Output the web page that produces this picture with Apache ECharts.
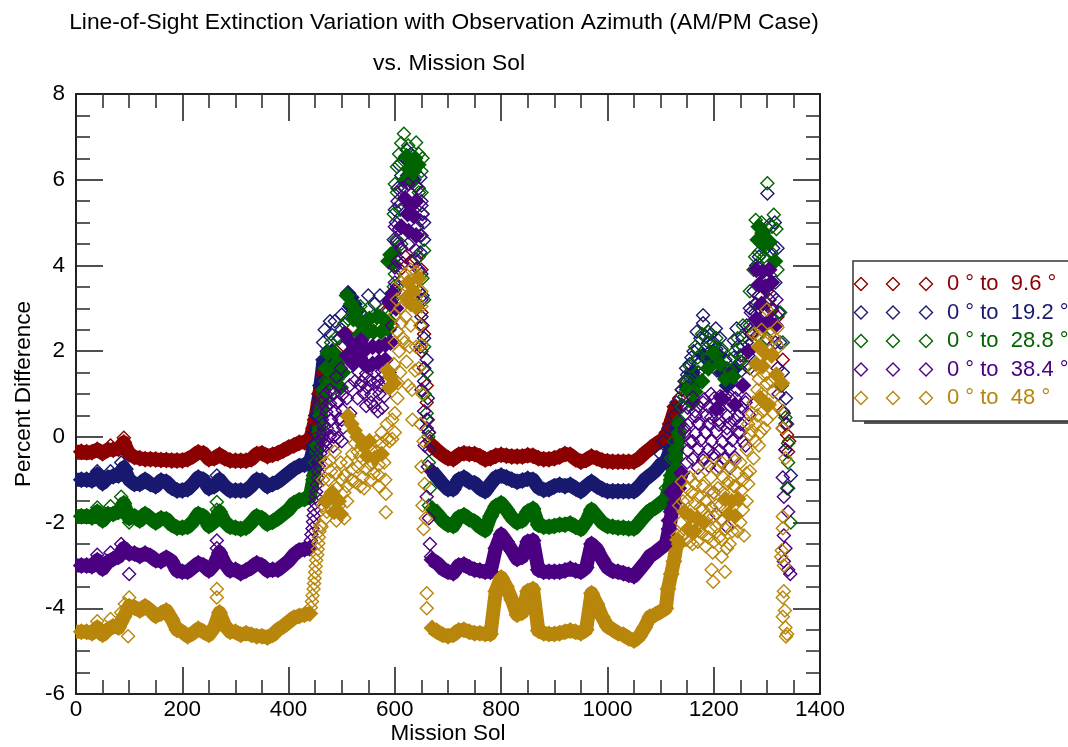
<!DOCTYPE html>
<html>
<head>
<meta charset="utf-8">
<style>
    html, body { margin: 0; padding: 0; background: #fff; overflow: hidden; }
    #main { width: 1068px; height: 747px; }
</style>
<script src="https://cdn.jsdelivr.net/npm/echarts@6/dist/echarts.min.js"></script>
</head>
<body>
<div id="main"></div>
<script type="text/javascript">
    var titleLines = ['Line-of-Sight Extinction Variation with Observation Azimuth (AM/PM Case)', 'vs. Mission Sol'];
    var legendLabels = ['0 ° to  9.6 °', '0 ° to  19.2 °', '0 ° to  28.8 °', '0 ° to  38.4 °', '0 ° to  48 °'];
    var colors = ['#8b0000', '#191970', '#006400', '#4b0082', '#b8860b'];

    // quiet stretches, one reading every 10 sols
    var earlySols = [0,10,20,30,40,50,60,70,80,90,100,110,120,130,140,150,160,170,180,190,200,210,220,230,240,250,260,270,280,290,300,310,320,330,340,350,360,370,380,390,400,410,420,430,440];
    var lateSols = [670,680,690,700,710,720,730,740,750,760,770,780,790,800,810,820,830,840,850,860,870,880,890,900,910,920,930,940,950,960,970,980,990,1000,1010,1020,1030,1040,1050,1060,1070,1080,1090,1100,1110];

    var redEarly = [-.35,-.35,-.36,-.36,-.3,-.38,-.3,-.3,-.28,-.13,-.4,-.47,-.5,-.52,-.52,-.53,-.54,-.54,-.55,-.55,-.55,-.52,-.45,-.36,-.38,-.52,-.5,-.42,-.5,-.55,-.56,-.56,-.56,-.52,-.4,-.38,-.45,-.42,-.38,-.32,-.25,-.2,-.14,-.12,-.1];
    var navyEarly = [-1,-1,-1,-1.02,-.88,-1.08,-.95,-.92,-.9,-.72,-1,-1.1,-1.1,-1,-1.1,-1.15,-1.02,-1.05,-1.18,-1.25,-1.25,-1.22,-1.1,-.95,-1,-1.2,-1.15,-1,-1.15,-1.25,-1.25,-1.25,-1.25,-1.15,-1,-1.02,-1.15,-1.1,-1.05,-.95,-.85,-.75,-.68,-.65,-.62];
    var greenEarly = [-1.85,-1.85,-1.85,-1.88,-1.75,-1.95,-1.8,-1.8,-1.75,-1.55,-1.9,-1.85,-1.95,-1.8,-1.9,-2,-1.9,-1.92,-2.05,-2.12,-2.12,-2.1,-1.98,-1.8,-1.85,-2.08,-1.98,-1.75,-1.98,-2.1,-2.12,-2.15,-2.12,-2,-1.85,-1.9,-2.03,-1.98,-1.9,-1.8,-1.7,-1.55,-1.48,-1.45,-1.4];
    var purpleEarly = [-3,-3,-3,-3.02,-2.88,-3.08,-2.92,-2.85,-2.8,-2.6,-2.72,-2.72,-2.78,-2.72,-2.78,-2.88,-2.9,-2.82,-2.9,-3.12,-3.15,-3.15,-3.05,-2.95,-3,-3.12,-2.98,-2.7,-2.95,-3.12,-3.1,-3.18,-3.12,-3.05,-2.95,-3,-3.12,-3.1,-3.1,-3,-2.9,-2.75,-2.65,-2.62,-2.6];
    var goldEarly = [-4.55,-4.55,-4.55,-4.58,-4.45,-4.62,-4.5,-4.42,-4.45,-4.2,-3.95,-3.98,-4.05,-3.95,-4.05,-4.18,-4.12,-4.05,-4.25,-4.5,-4.55,-4.65,-4.58,-4.48,-4.55,-4.62,-4.45,-4.1,-4.4,-4.55,-4.55,-4.62,-4.58,-4.62,-4.65,-4.65,-4.68,-4.62,-4.5,-4.42,-4.32,-4.22,-4.18,-4.15,-4.12];

    var redLate = [-.2,-.32,-.42,-.5,-.52,-.42,-.38,-.4,-.4,-.45,-.53,-.5,-.44,-.42,-.44,-.46,-.46,-.46,-.43,-.44,-.5,-.52,-.52,-.5,-.46,-.4,-.42,-.52,-.58,-.54,-.46,-.5,-.55,-.57,-.58,-.58,-.58,-.58,-.58,-.5,-.38,-.28,-.18,-.1,-.05];
    var navyLate = [-.8,-.95,-1.1,-1.22,-1.22,-1,-.95,-1.05,-1.08,-1.2,-1.27,-1.1,-.95,-.9,-.95,-1,-1.05,-1.02,-.98,-1,-1.18,-1.24,-1.22,-1.15,-1.12,-1.15,-1.12,-1.2,-1.27,-1.15,-1.05,-1.15,-1.22,-1.27,-1.27,-1.27,-1.27,-1.27,-1.27,-1.15,-1,-.9,-.8,-.65,-.58];
    var greenLate = [-1.67,-1.8,-1.95,-2.05,-2.08,-1.88,-1.83,-1.92,-1.98,-2.1,-2.18,-1.85,-1.62,-1.55,-1.7,-1.88,-2,-1.95,-1.75,-1.68,-2.05,-2.1,-2.1,-2.08,-2.05,-2.05,-2.02,-2.1,-2.15,-1.98,-1.7,-1.85,-2,-2.08,-2.1,-2.12,-2.12,-2.14,-2.14,-2,-1.85,-1.72,-1.65,-1.55,-1.45];
    var purpleLate = [-2.87,-2.95,-3.08,-3.15,-3.18,-3,-2.98,-3.05,-3.1,-3.12,-3.15,-3.15,-2.6,-2.28,-2.45,-2.65,-2.85,-2.8,-2.45,-2.42,-3.1,-3.15,-3.15,-3.15,-3.15,-3.12,-3.08,-3.12,-3.15,-3.05,-2.5,-2.62,-2.85,-3.05,-3.13,-3.15,-3.18,-3.22,-3.25,-3.1,-2.95,-2.78,-2.7,-2.6,-2.5];
    var goldLate = [-4.46,-4.55,-4.62,-4.65,-4.62,-4.52,-4.5,-4.55,-4.58,-4.58,-4.6,-4.6,-3.6,-3.28,-3.5,-3.8,-4.15,-4.1,-3.6,-3.55,-4.52,-4.58,-4.6,-4.6,-4.58,-4.55,-4.52,-4.55,-4.58,-4.5,-3.65,-3.9,-4.2,-4.42,-4.5,-4.58,-4.62,-4.7,-4.75,-4.65,-4.45,-4.2,-4.15,-4.08,-4];

    // steep walls joining the quiet stretches to the peaks
    var redWall = [[450,.4],[458,1],[466,1.5]];
    var navyWall = [[448,-.2],[454,.5],[460,1.2],[466,1.8]];
    var greenWall = [[448,-.9],[454,-.2],[460,.5],[466,1.1]];
    var redWallLate = [[1118,.3],[1128,.7]];
    var navyWallLate = [[1120,-.25],[1130,.2]];
    var greenWallLate = [[1120,-1],[1128,-.5],[1135,.1]];
    var purpleWallLate = [[1116,-2.15],[1122,-1.7],[1128,-1.2],[1140,-.85]];
    var goldWallLate = [[1114,-3.55],[1120,-3.2],[1125,-2.9],[1132,-2.4]];

    // solid-looking clumps in the two peaks
    var navyCore = [[512,3.35],[518,3.25],[524,3.1],[516,3.05],[530,2.95],[475,1.7],[482,2],[625,6.1],[635,6],[1180,1.9],[1195,1.7],[1210,1.9],[1240,1.6],[1170,1.3],[1150,1.15],[1160,1.5],[1225,1.2],[1215,1.5]];
    var greenCore = [[510,3.3],[518,3.1],[526,2.95],[532,2.75],[522,2.75],[540,2.6],[552,2.75],[566,2.8],[578,2.75],[590,2.7],[546,2.4],[560,2.45],[574,2.45],[588,2.5],[534,2.4],[474,1.95],[486,1.95],[470,1.6],[482,1.6],[494,1.75],[478,1.3],[490,1.35],[502,1.5],[498,1.15],[588,4.1],[592,4.25],[598,4.3],[596,4.05],[622,6.55],[630,6.45],[638,6.5],[626,6.25],[636,6.2],[644,6.35],[620,6],[632,5.95],[1285,4.9],[1292,4.75],[1283,4.6],[1294,4.5],[1305,4.55],[1315,4.1],[1200,1.95],[1212,1.7],[1222,1.35],[1236,1.4],[1150,1.1],[1160,.8],[1135,.3],[1128,-.3],[1190,1.6],[1178,1.3],[1165,1.05]];
    var purpleCore = [[505,2.4],[514,2.25],[524,2.1],[510,1.9],[522,1.7],[534,1.85],[546,2.05],[558,2.1],[570,2.1],[582,2.15],[536,2.25],[548,1.65],[558,1.7],[570,1.75],[582,1.8],[592,2.2],[590,3.15],[596,3.35],[602,3],[620,5.55],[630,5.4],[640,5.5],[624,5.2],[636,5.15],[612,4.9],[626,4.8],[640,4.7],[1280,3.9],[1292,3.85],[1304,3.9],[1285,3.55],[1297,3.5],[1309,3.6],[1280,2.75],[1292,2.6],[1304,2.7],[1316,2.6],[1290,3.1],[1120,-1.3],[1126,-1.55],[1120,-1.75],[1116,-1.95],[1134,-1.2],[1215,.9],[1205,.65],[1240,.75],[1255,1.2],[1265,2]];
    var goldCore = [[512,.48],[518,.3],[524,.15],[530,0],[540,-.2],[552,-.1],[548,-.45],[562,-.5],[575,-.4],[586,1.55],[592,1.4],[598,1.25],[590,1.15],[625,3.6],[635,3.4],[645,3.7],[630,3.1],[622,3.25],[640,3.05],[470,-1.5],[482,-1.3],[494,-1.5],[486,-1.75],[498,-1.8],[1285,2.1],[1297,1.95],[1309,1.9],[1280,1.7],[1292,1.65],[1318,1.45],[1328,1.25],[1145,-1.75],[1157,-1.85],[1169,-1.9],[1181,-2],[1152,-2.15],[1164,-2.2],[1222,-1.45],[1234,-1.5],[1246,-1.45],[1228,-1.8],[1240,-1.85],[1135,-2.5],[1288,.9],[1300,.75]];

    // open diamonds scattered over the two peaks and the few strays
    var redPeak = [[440,-.1],[445,.2],[450,.5],[455,.8],[460,1.1],[465,1.4],[470,1.6],[480,1.9],[490,2],[500,1.8],[510,2.4],[520,2.9],[540,2.5],[560,2.7],[580,2.9],[590,3.1],[600,3.4],[610,3.9],[620,4.2],[630,4.1],[640,4.15],[650,3.9],[645,3.4],[650,2.9],[655,2.4],[650,2],[655,1.6],[660,1.2],[660,.8],[662,.4],[664,.1],[666,-.1],[1100,-.05],[1110,.1],[1120,.4],[1125,.7],[1135,.9],[1140,1.1],[1150,1.3],[1170,1.5],[1180,1.9],[1200,2],[1220,1.5],[1240,1.6],[1255,1.9],[1270,2.4],[1285,3],[1300,3.4],[1310,3],[1320,2.8],[1330,1.8],[1325,1.2],[1330,.6],[1335,.3],[1338,.05],[1342,-.1],[1340,-.35],[90,-.02],[65,-.2]];
    var navyPeak = [[265,-.9],[40,-.8],[65,-.8],[85,-.6],[95,-.75],[445,-.3],[450,.1],[455,.5],[460,.9],[462,1.3],[465,1.7],[465,2.2],[472,2],[480,2.4],[487,2.7],[495,2.3],[500,2.5],[535,2.9],[550,3.3],[562,3.1],[572,3.3],[590,3.2],[585,2.9],[600,4],[605,4.5],[602,5],[608,5.4],[605,5.8],[612,6.1],[618,6.5],[630,6.6],[640,6.3],[645,5.8],[650,5.4],[642,4.9],[655,4.6],[650,3.8],[652,3.3],[650,2.8],[655,2.3],[660,1.8],[655,1.3],[662,.9],[660,.4],[664,.1],[665,-.3],[1100,-.4],[1105,-.1],[1115,.2],[1125,.5],[1130,.8],[1140,1.1],[1150,1.45],[1155,1.7],[1162,2],[1168,2.45],[1180,2.84],[1180,2.65],[1190,2.2],[1204,2.53],[1200,2.2],[1212,2.3],[1222,1.8],[1232,1.3],[1243,2.53],[1238,2.25],[1250,1.9],[1262,2.6],[1268,3],[1275,3.4],[1280,4],[1290,4.5],[1301,5.68],[1305,4.95],[1315,5],[1320,4.4],[1310,3.3],[1322,2.9],[1325,2.2],[1330,1.5],[1336,.9],[1332,.55],[1338,.3],[1335,-.3],[1345,-.9],[1340,-1.2],[1175,2.3],[1158,1.85],[1148,1.6],[1195,2.4],[1215,2],[1205,2.05],[1245,2.1],[1228,1.55],[1254,2.3],[1262,2.2],[1170,2.05],[1185,2.35],[1140,.75],[1145,1.3],[1172,1.7],[1190,1.95],[1206,1.55],[1238,1.85],[1252,1.55],[1265,1.9],[1272,2.4],[1278,2.9],[1285,4.2],[1298,4.4],[1312,4.4],[1300,3.7],[1316,3.6],[608,6.35],[622,6.7],[648,6.05],[600,5.3],[598,4.6],[612,4.9],[655,5],[648,4.3],[604,3.5],[500,2.85],[478,2.7],[468,2.5]];
    var greenPeak = [[265,-1.52],[265,-1.7],[40,-1.65],[65,-1.62],[85,-1.4],[92,-1.65],[100,-2],[445,-1],[450,-.6],[452,-.2],[458,.2],[460,.6],[465,1],[470,1.3],[480,2.2],[488,2.3],[500,2.1],[535,3.05],[550,3],[580,3],[595,3.2],[600,3.8],[603,4.6],[598,5.2],[604,5.7],[604,6.3],[608,6.6],[612,6.85],[617,7.07],[625,6.8],[640,6.87],[645,6.6],[650,6.2],[645,5.7],[652,5.2],[648,4.7],[655,4.35],[652,3.7],[655,3.2],[650,2.6],[655,2.1],[660,1.5],[656,1],[660,.55],[663,0],[664,-.6],[666,-1.2],[664,-1.6],[1110,-1.2],[1118,-.9],[1120,-.5],[1125,-.1],[1135,.4],[1140,.7],[1148,1.3],[1155,1.65],[1165,2.1],[1178,2.4],[1190,2.45],[1205,2.3],[1215,2.05],[1230,1.8],[1245,2.3],[1255,2.6],[1268,3.4],[1275,3.9],[1279,5.06],[1290,5],[1301,5.92],[1313,5.18],[1318,4.85],[1308,4.3],[1320,3.9],[1325,2.9],[1330,2.2],[1328,1.2],[1335,.45],[1340,-.15],[1340,-.6],[1338,-1.2],[1345,-2],[1170,1.85],[1185,2.05],[1200,2.1],[1225,1.6],[1240,2],[1255,2.1],[1268,2.6],[1278,4.2],[1285,4.3],[1300,4.1],[1310,4.9],[1295,4.2],[1145,.95],[1155,1.3],[1172,1.5],[1188,1.85],[1232,1.55],[1250,1.75],[1262,1.65],[1272,2.2],[1280,3.1],[1300,3.1],[1300,2.3],[612,6.4],[652,6.5],[600,5.9],[610,5.3],[650,5.7],[602,4.2],[645,4.2],[612,4.5],[598,3.5],[470,.9],[462,.2],[478,1.05],[505,2.65],[512,2.75]];
    var purplePeak = [[265,-2.42],[265,-2.6],[40,-2.75],[65,-2.7],[85,-2.5],[92,-2.7],[100,-3.2],[440,-2.58],[442,-2.42],[443,-2.28],[445,-2.14],[446,-1.98],[447,-1.84],[448,-1.7],[450,-1.55],[451,-1.4],[452,-1.28],[453,-1.12],[455,-.96],[456,-.82],[457,-.68],[459,-.52],[460,-.38],[461,-.24],[462,-.08],[464,.08],[465,.3],[470,.7],[478,1.1],[490,1.4],[498,1.6],[480,.4],[490,.8],[500,.4],[510,.9],[470,-.1],[485,0],[500,-.1],[515,1.2],[525,1.3],[535,1.2],[530,.9],[548,1.15],[560,1.25],[572,1.2],[555,.8],[568,.6],[580,.95],[590,1.5],[595,2.6],[600,3.6],[605,4.1],[603,4.55],[608,4.85],[612,5.8],[625,5.9],[640,5.85],[652,5.2],[650,4.7],[645,3.9],[650,3.2],[652,2.6],[648,2.1],[655,1.6],[650,1.1],[655,.6],[660,.2],[656,-.2],[662,-.7],[660,-1.4],[664,-1.9],[666,-2.5],[668,-2.8],[1112,-2.5],[1116,-2.15],[1140,-.85],[1150,-.6],[1160,-.1],[1172,.3],[1185,.1],[1195,.45],[1210,.4],[1225,.2],[1240,.4],[1250,.1],[1260,-.2],[1145,.2],[1165,.6],[1180,.8],[1195,1],[1212,.95],[1230,.9],[1245,1.1],[1200,-.4],[1220,-.5],[1180,-.55],[1200,-1.3],[1205,-1.8],[1225,-2.1],[1260,.8],[1268,1.6],[1272,2.2],[1278,3.1],[1305,3.2],[1318,3.2],[1316,2.2],[1320,1.6],[1322,1],[1330,.2],[1335,-.3],[1330,-.95],[1332,-1.4],[1340,-1.75],[1332,-2.3],[1335,-2.6],[1332,-2.9],[1340,-3.1],[1344,-3.2]];
    var purpleFill = [[470,1],[486,1.02],[501,.98],[462,.8],[478,.78],[494,.82],[471,.58],[487,.6],[502,.62],[516,.55],[463,.4],[479,.38],[495,.42],[472,.2],[486,.18],[503,.22],[464,0],[478,.02],[493,-.02],[470,-.2],[484,-.22],[531,1.52],[546,1.48],[561,1.5],[576,1.53],[538,1.28],[553,1.32],[568,1.3],[583,1.27],[541,1.02],[556,.98],[571,1],[546,.72],[561,.7],[576,.68],[1161,.92],[1182,.88],[1201,.9],[1221,.93],[1241,.9],[1261,.88],[1151,.68],[1171,.72],[1190,.7],[1211,.67],[1231,.72],[1251,.7],[1146,.52],[1166,.48],[1186,.5],[1206,.52],[1226,.48],[1246,.5],[1266,.52],[1151,.28],[1171,.32],[1191,.3],[1210,.28],[1230,.32],[1251,.3],[1146,.12],[1166,.08],[1185,.1],[1205,.12],[1226,.08],[1246,.1],[1156,-.12],[1175,-.08],[1196,-.1],[1216,-.12],[1235,-.08],[1255,-.1],[1151,-.32],[1171,-.28],[1190,-.3],[1211,-.32],[1230,-.28],[1161,-.52],[1181,-.48],[1201,-.5],[1221,-.52],[1240,-.48],[1170,-.72],[1191,-.68],[1210,-.7],[1231,-.72],[1285,3.3],[1270,2.9],[1298,2.9],[1310,2.95],[1285,2.35],[1300,2.25],[1268,2.5],[605,5.5],[618,5.8],[650,5.5],[600,4.9],[648,5.05],[612,4.4],[625,4.5],[640,4.35],[615,4.05],[632,4.1],[600,3.95]];
    var goldPeak = [[265,-3.55],[265,-3.75],[40,-4.3],[65,-4.25],[85,-4.1],[92,-3.9],[100,-3.75],[98,-4.65],[660,-3.65],[660,-4],[442,-3.98],[444,-3.84],[445,-3.7],[447,-3.55],[448,-3.42],[449,-3.3],[450,-3.16],[451,-3.02],[452,-2.88],[454,-2.75],[455,-2.62],[456,-2.48],[457,-2.34],[458,-2.2],[460,-2.06],[462,-2.1],[470,-1.9],[482,-1.7],[495,-1.6],[505,-1.9],[475,-1.4],[490,-1.2],[500,-1],[510,-1.5],[487,-.35],[465,-1],[480,-.8],[510,-.6],[525,-.15],[535,-.45],[545,-.2],[555,-.3],[565,-.1],[575,.1],[585,.3],[530,-.7],[545,-.75],[560,-.85],[570,-.65],[580,-.6],[542,-1.2],[555,-1],[570,-1.15],[583,-1.33],[583,-1.76],[590,-.1],[595,.4],[600,.55],[605,.9],[598,1.7],[608,2],[615,2.3],[620,2.8],[612,2.65],[630,2.6],[640,3],[650,3.4],[640,3.85],[630,3.9],[620,3.8],[632,1.1],[633,.4],[640,2.1],[645,1.6],[652,1],[648,.3],[654,-.1],[650,-.7],[656,-1.1],[652,-1.6],[658,-1.9],[654,-2.15],[1132,-2.3],[1138,-2],[1142,-1.5],[1150,-1.2],[1160,-1.3],[1172,-1.4],[1185,-1.5],[1195,-1.65],[1172,-.9],[1185,-.6],[1195,-.95],[1208,-1.2],[1218,-.95],[1205,-2.1],[1170,-2.45],[1190,-2.35],[1198,-2.7],[1196,-3.1],[1199,-3.38],[1221,-3.15],[1215,-2.8],[1225,-2.6],[1235,-2.2],[1257,-2.3],[1250,-2],[1262,-1.5],[1255,-1],[1250,-.6],[1262,-.3],[1272,.15],[1282,.5],[1293,.6],[1278,-.1],[1265,.3],[1275,.8],[1290,1],[1305,.75],[1312,.55],[1320,.7],[1300,2.97],[1275,2.4],[1305,2.4],[1322,2.1],[1330,.2],[1335,-.5],[1330,-1.86],[1330,-2.13],[1327,-2.8],[1332,-3],[1328,-2.65],[1332,-3.6],[1330,-3.75],[1334,-4.05],[1330,-4.2],[1335,-4.45],[1338,-4.6],[1336,-4.66]];
    var goldFill = [[1150,-1.5],[1165,-1.55],[1180,-1.7],[1200,-1.85],[1212,-1.6],[1148,-2.4],[1160,-2.5],[1178,-2.25],[1195,-2.15],[1210,-2.35],[1222,-2.15],[1238,-1.15],[1225,-1.1],[1245,-.85],[1200,-1.3],[1218,-1.3],[1255,-1.7],[1268,-.8],[1275,-.5],[1285,-.2],[1295,.2],[1265,-1.1],[1312,1.05],[1300,1.25],[1285,1.35],[1275,1.55],[1320,2.55],[1290,2.5],[615,3.3],[610,3],[605,2.45],[600,2.2],[618,2.2],[628,2.1],[600,.1],[470,-.6],[475,-1],[505,-.9],[490,-.85],[520,-.4],[518,-1],[505,-1.3],[525,-1.05],[540,-.95],[565,-.35],[575,-.15],[585,-.05],[1140,-1.05],[1155,-.95],[1165,-1.1],[1180,-1.15],[1192,-1.25],[1205,-.75],[1215,-.6],[1228,-.7],[1240,-.55],[1135,-1.6],[1175,-1.65],[1190,-1.85],[1205,-1.6],[1215,-1.95],[1228,-1.05],[1240,-1.15],[1252,-1.25],[1262,-.85],[1215,-2.4],[1230,-2.5],[1245,-2.2],[1140,-2.3],[1155,-2.45],[1172,-2.2],[1185,-2.55],[1200,-2.45],[1278,.3],[1288,.1],[1300,.4],[1282,1.1],[1295,1.45],[1310,1.3],[1268,.05],[1272,.55],[1315,2.3],[1285,2.35],[1300,2.25],[472,-1.75],[490,-1.95],[465,-1.6],[510,-1.15],[498,-.6],[478,-.55],[530,-.35],[555,-.65],[570,-.9],[582,-1],[595,-.05],[610,1.5],[622,1.75],[638,1.55],[606,1.25],[625,1.2],[648,2.6],[650,2.15],[612,3.6],[650,3.05],[600,2.85],[604,3.2],[520,-.75],[535,-1.15]];

    var ribbons = [[redEarly, redWall, redLate, redWallLate], [navyEarly, navyWall, navyLate, navyWallLate], [greenEarly, greenWall, greenLate, greenWallLate], [purpleEarly, [], purpleLate, purpleWallLate], [goldEarly, [], goldLate, goldWallLate]];
    var cores = [[], navyCore, greenCore, purpleCore, goldCore];
    var peaks = [redPeak, navyPeak, greenPeak, purplePeak.concat(purpleFill), goldPeak.concat(goldFill)];

    function ribbonData(parts) {
        var out = [];
        earlySols.forEach(function (sol, i) {
            // the band is cut flat at the left axis, so no marker on the first point
            out.push(i === 0 ? { value: [sol, parts[0][i]], symbol: 'none' } : [sol, parts[0][i]]);
        });
        out = out.concat(parts[1]);
        out.push([555, null]);
        lateSols.forEach(function (sol, i) { out.push([sol, parts[2][i]]); });
        return out.concat(parts[3]);
    }

    var series = [];
    colors.forEach(function (color, i) {
        series.push({
            type: 'line',
            data: ribbonData(ribbons[i]),
            showAllSymbol: true,
            symbol: 'diamond',
            symbolSize: 17,
            itemStyle: { color: color, opacity: 1 },
            lineStyle: { color: color, width: 14, join: 'round' },
            z: 3
        });
        series.push({
            type: 'scatter',
            data: cores[i],
            symbol: 'diamond',
            symbolSize: 17,
            itemStyle: { color: color, opacity: 1 },
            z: 3
        });
        series.push({
            type: 'scatter',
            data: peaks[i],
            symbol: 'diamond',
            symbolSize: 13,
            itemStyle: { color: 'rgba(0,0,0,0)', borderColor: color, borderWidth: 1.4, opacity: 1 },
            z: 3
        });
    });

    function createLegend() {
        var items = [
            { type: 'rect', shape: { x: 864, y: 264, width: 220, height: 160 }, style: { fill: '#555' }, z: 10 },
            { type: 'rect', shape: { x: 853, y: 261, width: 230, height: 160 }, style: { fill: '#fff', stroke: '#333', lineWidth: 1.5 }, z: 11 }
        ];
        var rowY = [284, 312.5, 341, 369.5, 398];
        var iconX = [861, 893, 926];
        legendLabels.forEach(function (label, i) {
            iconX.forEach(function (x) {
                items.push({
                    type: 'polygon',
                    shape: { points: [[x - 6.5, rowY[i]], [x, rowY[i] - 6.5], [x + 6.5, rowY[i]], [x, rowY[i] + 6.5]] },
                    style: { fill: 'none', stroke: colors[i], lineWidth: 1.4 },
                    z: 12
                });
            });
            items.push({
                type: 'text',
                x: 947,
                y: rowY[i],
                style: { text: label, fill: colors[i], font: '22px "Liberation Sans"', verticalAlign: 'middle' },
                z: 12
            });
        });
        return items;
    }

    function plainNumber(v) { return String(v); }

    var axisText = { color: '#000', fontFamily: 'Liberation Sans', fontSize: 22.5, formatter: plainNumber };
    var nameText = { color: '#000', fontFamily: 'Liberation Sans', fontSize: 22.5 };
    var edge = { show: true, onZero: false, lineStyle: { color: '#222', width: 2 } };
    var major = { show: true, inside: true, length: 27, lineStyle: { color: '#222', width: 1.6 } };
    var minor = { show: true, splitNumber: 4, length: 14, lineStyle: { color: '#333', width: 1.6 } };

    var chart = echarts.init(document.getElementById('main'));
    chart.setOption({
        animation: false,
        backgroundColor: '#fff',
        title: [
            { text: titleLines[0], left: 439, top: 6, textAlign: 'center', textStyle: { color: '#000', fontFamily: 'Liberation Sans', fontSize: 22.8, fontWeight: 'normal' } },
            { text: titleLines[1], left: 444, top: 47, textAlign: 'center', textStyle: { color: '#000', fontFamily: 'Liberation Sans', fontSize: 22.8, fontWeight: 'normal' } }
        ],
        grid: { left: 76, top: 94, width: 744, height: 600, outerBoundsMode: 'none' },
        xAxis: [
            { type: 'value', min: 0, max: 1400, interval: 200, name: 'Mission Sol', nameLocation: 'middle', nameGap: 28, nameMoveOverlap: false, nameTextStyle: nameText, axisLine: edge, axisTick: major, minorTick: minor, axisLabel: Object.assign({ margin: 4, showMinLabel: true, showMaxLabel: true }, axisText), splitLine: { show: false } },
            { type: 'value', position: 'top', min: 0, max: 1400, interval: 200, axisLine: edge, axisTick: major, minorTick: minor, axisLabel: { show: false }, splitLine: { show: false } }
        ],
        yAxis: [
            { type: 'value', min: -6, max: 8, interval: 2, name: 'Percent Difference', nameLocation: 'middle', nameGap: 41, nameMoveOverlap: false, nameTextStyle: nameText, axisLine: edge, axisTick: major, minorTick: minor, axisLabel: Object.assign({ margin: 11, showMinLabel: true, showMaxLabel: true }, axisText), splitLine: { show: false } },
            { type: 'value', position: 'right', min: -6, max: 8, interval: 2, axisLine: edge, axisTick: major, minorTick: minor, axisLabel: { show: false }, splitLine: { show: false } }
        ],
        series: series,
        graphic: createLegend()
    });
</script>
</body>
</html>
